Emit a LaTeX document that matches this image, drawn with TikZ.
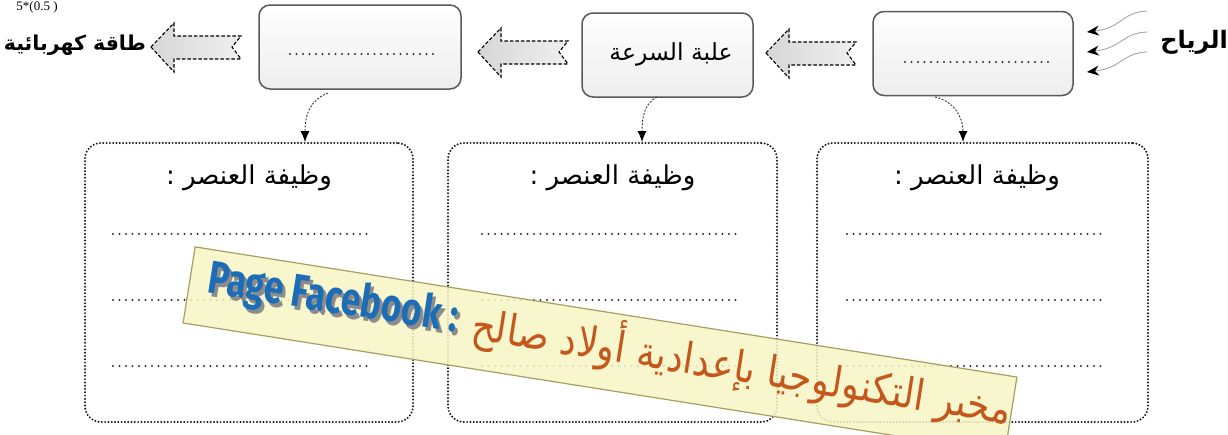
\documentclass[tikz,border=0pt]{standalone}
\usepackage{fontspec}
\setmainfont{Liberation Serif}
\newfontfamily\arabicfont[Script=Arabic]{DejaVu Sans}
\newfontfamily\fbfont{Fira Sans}
\TeXXeTstate=1
\usetikzlibrary{arrows.meta}
\definecolor{fbblue}{RGB}{28,108,182}
\definecolor{arorange}{RGB}{196,88,28}
\definecolor{bannerfill}{RGB}{247,245,196}
\definecolor{banneredge}{RGB}{165,160,95}
\tikzset{
  topbox/.style={draw=black!65, line width=1.5pt, rounded corners=11pt,
    top color=white, bottom color=black!7, minimum height=84pt, inner sep=0pt},
  botbox/.style={draw=black!90, line width=2.2pt, line cap=round,
    dash pattern=on 0pt off 3.3pt, rounded corners=16pt, inner sep=0pt},
  dotline/.style={black!80, line width=2.2pt, line cap=round, dash pattern=on 0pt off 6.5pt},
  conn/.style={black!80, line width=0.9pt, dash pattern=on 2pt off 1.5pt,
    -{Latex[black,length=11pt,width=9pt]}},
  wind/.style={black!35, line width=0.9pt, -{Stealth[black,length=12pt,width=10pt]}},
  ar/.style={font=\arabicfont, inner sep=0pt},
  hollowarrow/.pic={
    \path[draw=black, line width=1.1pt, dash pattern=on 3.5pt off 2pt, line join=miter,
      left color=black!16, right color=black!6]
      (-45,0) -- (-22,-24) -- (-22,-11) -- (45,-11) -- (36,0) -- (45,12)
      -- (-22,12) -- (-22,25) -- cycle;
  }
}
\begin{document}
\begin{tikzpicture}[x=1pt,y=-1pt]
\useasboundingbox (0,0) rectangle (1228,434);
\clip (0,0) rectangle (1228,434);
\fill[white] (0,0) rectangle (1228,434);

% score
\node[font=\fontsize{13}{15}\selectfont, inner sep=0pt] (score) at (37,7.5) {5*(0.5 )};

% top row
\node[ar, font=\arabicfont\bfseries\fontsize{20.5}{24}\selectfont] (elec) at (75,45) {\beginR طاقة كهربائية\endR};
\pic at (196,47) {hollowarrow};
\node[topbox, minimum width=202pt] (b1) at (360,47) {};
\pic at (523,52) {hollowarrow};
\node[topbox, minimum width=171pt] (b2) at (667.5,55) {};
\node[ar, font=\arabicfont\fontsize{23.5}{28}\selectfont] (b2t) at (671,54) {\beginR علبة السرعة\endR};
\pic at (811,53) {hollowarrow};
\node[topbox, minimum width=200pt] (b3) at (973,53.5) {};
\node[ar, font=\arabicfont\bfseries\fontsize{24}{28}\selectfont] (wind) at (1194,42) {\beginR الرياح\endR};

\draw[dotline] (290,54) -- (438,54);
\draw[dotline] (905,62) -- (1052,62);

% wind arrows
\coordinate (w1s) at (1147,11); \coordinate (w1e) at (1087,32);
\coordinate (w2s) at (1147,32); \coordinate (w2e) at (1087,52);
\coordinate (w3s) at (1147,52); \coordinate (w3e) at (1087,72);
\draw[wind] (w1s) .. controls (1122,12) and (1122,28) .. (w1e);
\draw[wind] (w2s) .. controls (1122,33) and (1122,48) .. (w2e);
\draw[wind] (w3s) .. controls (1122,53) and (1122,68) .. (w3e);

% bottom boxes
\node[botbox, minimum width=328pt, minimum height=279pt] (bA) at (249,282.5) {};
\node[botbox, minimum width=329pt, minimum height=279pt] (bB) at (612.5,282.5) {};
\node[botbox, minimum width=331pt, minimum height=279pt] (bC) at (982.5,282.5) {};

\foreach \n/\cx in {tA/249, tB/612.5, tC/977}{
  \node[ar, font=\arabicfont\fontsize{26}{30}\selectfont] (\n) at (\cx,178) {\beginR وظيفة العنصر :\endR};
}
\foreach \x in {113, 482, 847}{
  \foreach \y in {234, 300, 366}{
    \draw[dotline] (\x,\y) -- (\x+258,\y);
  }
}

% connectors
\coordinate (c1s) at (328,93);  \coordinate (c1e) at (305,142);
\coordinate (c2s) at (657,97);  \coordinate (c2e) at (642,142);
\coordinate (c3s) at (935,97);  \coordinate (c3e) at (963,142);
\draw[conn] (c1s) .. controls (312,99) and (305,112) .. (c1e);
\draw[conn] (c2s) .. controls (645,103) and (642,116) .. (c2e);
\draw[conn] (c3s) .. controls (953,101) and (963,116) .. (c3e);

% banner
\node[rotate=-9, minimum width=832pt, minimum height=77pt, inner sep=0pt,
  draw=banneredge, line width=1.2pt, fill=bannerfill, fill opacity=0.85] (banner) at (600,350) {};
\node[rotate=-9, text=black!45, inner sep=0pt] (fbshadow) at (336,304)
  {\fbfont\bfseries\fontsize{44}{48}\selectfont\scalebox{0.8}[1.05]{Page Facebook :}};
\node[rotate=-9, text=fbblue, inner sep=0pt] (fb) at (333,300)
  {\fbfont\bfseries\fontsize{44}{48}\selectfont\scalebox{0.8}[1.05]{Page Facebook :}};
\node[rotate=-9, text=arorange, inner sep=0pt] (lab) at (742,366)
  {\arabicfont\fontsize{37}{44}\selectfont\scalebox{1}[1.15]{\beginR مخبر التكنولوجيا بإعدادية أولاد صالح\endR}};
\end{tikzpicture}
\end{document}
